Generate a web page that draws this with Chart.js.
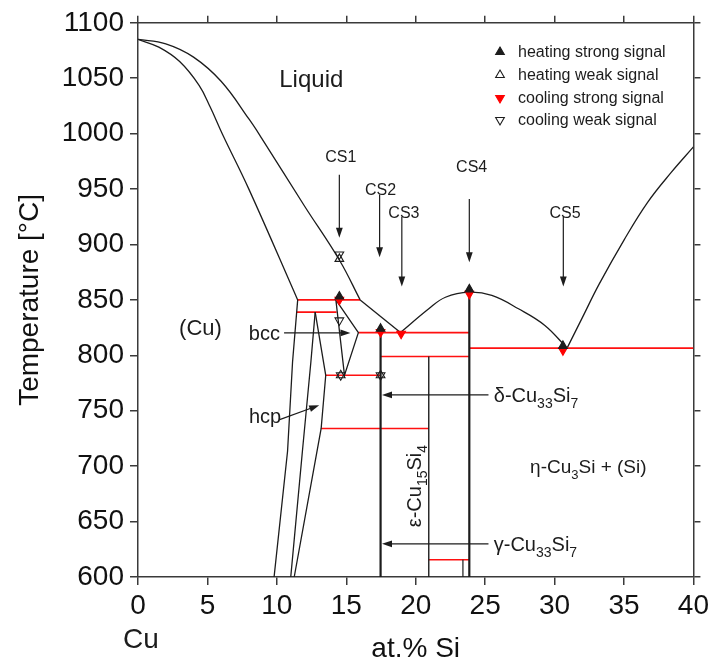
<!DOCTYPE html>
<html>
<head>
<meta charset="utf-8">
<script src="https://cdn.jsdelivr.net/npm/chart.js@4/dist/chart.umd.min.js"></script>
<style>
  html, body { margin: 0; padding: 0; background: #fff; }
  #wrap { width: 713px; height: 666px; }
</style>
</head>
<body>
<div id="wrap"><canvas id="c" width="713" height="666"></canvas></div>
<script>
// Cu–Si phase diagram, Cu-rich side (composition in at.% Si, temperature in °C)

const xTickValues = [0, 5, 10, 15, 20, 25, 30, 35, 40];
const yTickValues = [600, 650, 700, 750, 800, 850, 900, 950, 1000, 1050, 1100];

// Liquidus, Cu-rich branch
const liquidusCu = [[0, 1085], [2, 1081], [4, 1069], [6, 1047], [8, 1013], [8.9, 996], [12.0, 934.5], [14.5, 886], [16.0, 850]];
const liquidusCuLow = [[16.0, 850], [18.9, 820.5]];
// Liquidus dome over eta-Cu3Si and the Si-side branch
const liquidusDome = [[18.9, 820.5], [20.94, 842], [22.14, 852.4], [23.86, 857], [25.48, 854], [27.4, 842], [29.3, 827], [30.9, 806.5]];
const liquidusSi = [[30.9, 806.5], [32, 834], [33.2, 864], [35, 904], [36.7, 938], [38.4, 965], [40, 988]];
// Solidus and solvus of (Cu)
const solidusCu = [[0, 1085], [1.5, 1078], [3.0, 1065], [4.4, 1043.5], [5.2, 1024], [6.1, 999], [8.0, 949.5], [11.5, 850]];
const solvusCu = [[11.5, 850], [11.13, 794], [10.77, 713.5], [9.8, 600]];
// hcp (kappa) field boundaries
const hcpLeft = [[12.76, 839], [12.45, 794], [11.84, 713.5], [11.0, 600]];
const hcpRight = [[12.76, 839], [13.52, 782], [13.19, 734], [11.25, 600]];
// bcc (beta) field
const bccField = [[14.25, 850], [15.87, 820.5], [14.87, 782], [14.25, 850]];
// Intermetallic phase lines
const deltaLine = [[17.47, 820.5], [17.47, 600]];
const epsilonLine = [[20.94, 799], [20.94, 600]];
const etaLine = [[23.86, 857], [23.86, 600]];
const etaLowLine = [[23.4, 615.6], [23.4, 600]];

// Invariant reaction isotherms
const iso850 = [[11.5, 850], [16.0, 850]];
const iso839 = [[11.45, 839], [14.3, 839]];
const iso820 = [[15.87, 820.5], [23.86, 820.5]];
const iso799 = [[17.47, 799], [23.86, 799]];
const iso806 = [[23.86, 806.5], [40, 806.5]];
const iso782 = [[13.52, 782], [17.47, 782]];
const iso734 = [[13.19, 734], [20.94, 734]];
const iso616 = [[20.94, 615.6], [23.86, 615.6]];

// Thermal analysis signals
const heatingStrong = [[14.5, 853], [17.47, 824], [23.86, 859.5], [30.6, 808.5]];
const heatingWeak = [[14.5, 887], [14.6, 782], [17.47, 782]];
const coolingStrong = [[14.5, 850], [17.47, 821], [18.95, 819.5], [23.86, 855.5], [30.6, 804.5]];
const coolingWeak = [[14.5, 891], [14.5, 831.5], [14.6, 782], [17.47, 782]];

// Sample compositions
const sampleNames = ['CS1', 'CS2', 'CS3', 'CS4', 'CS5'];
const sampleX = [14.5, 17.4, 19.0, 23.86, 30.63];

const FONT = '"Liberation Sans", Arial, Helvetica, sans-serif';
const BLACK = '#1c1c1c';
const RED = '#ff1010';

const pts = arr => arr.map(([x, y]) => ({ x, y }));

function lineSet(data, opts = {}) {
  return Object.assign({
    data: pts(data), showLine: true, pointRadius: 0, pointHoverRadius: 0,
    borderColor: BLACK, borderWidth: 1.3, fill: false, tension: 0, order: 1,
    xAxisID: 'x', yAxisID: 'y'
  }, opts);
}
const curve = { tension: 0.4 };

function markerSet(label, data, opts) {
  return Object.assign({
    label, data: pts(data), showLine: false, pointStyle: 'triangle',
    pointRadius: 5, pointHoverRadius: 5, borderWidth: 1.1, order: 0,
    xAxisID: 'x', yAxisID: 'y'
  }, opts);
}

const markerSets = [
  markerSet('heating strong signal', heatingStrong, { backgroundColor: BLACK, borderColor: BLACK, pointRotation: 0 }),
  markerSet('heating weak signal', heatingWeak, { backgroundColor: 'rgba(255,255,255,0)', borderColor: BLACK, pointRotation: 0 }),
  markerSet('cooling strong signal', coolingStrong, { backgroundColor: '#ff0000', borderColor: '#ff0000', pointRotation: 180 }),
  markerSet('cooling weak signal', coolingWeak, { backgroundColor: 'rgba(255,255,255,0)', borderColor: BLACK, pointRotation: 180 })
];

const datasets = [
  ...markerSets,
  lineSet(liquidusCu, curve),
  lineSet(liquidusCuLow),
  lineSet(liquidusDome, curve),
  lineSet(liquidusSi, curve),
  lineSet(solidusCu, curve),
  lineSet(solvusCu),
  lineSet(hcpLeft),
  lineSet(hcpRight),
  lineSet(bccField),
  lineSet(deltaLine, { borderWidth: 2.2 }),
  lineSet(epsilonLine, { borderWidth: 1.4 }),
  lineSet(etaLine, { borderWidth: 2.2 }),
  lineSet(etaLowLine, { borderWidth: 1.2 }),
  ...[iso850, iso839, iso820, iso799, iso806, iso782, iso734, iso616]
    .map(d => lineSet(d, { borderColor: RED, borderWidth: 1.6, order: 2 }))
];

// Text pieces: plain runs and subscript runs
function richText(ctx, parts, x, y, size, align) {
  const subSize = Math.round(size * 0.7);
  let w = 0;
  for (const p of parts) {
    ctx.font = (p.sub ? subSize : size) + 'px ' + FONT;
    w += ctx.measureText(p.t).width;
  }
  let cx = align === 'center' ? x - w / 2 : x;
  ctx.textAlign = 'left';
  ctx.textBaseline = 'alphabetic';
  const base = y + size * 0.36;
  for (const p of parts) {
    ctx.font = (p.sub ? subSize : size) + 'px ' + FONT;
    ctx.fillText(p.t, cx, p.sub ? base + size * 0.3 : base);
    cx += ctx.measureText(p.t).width;
  }
}

function arrow(ctx, x1, y1, x2, y2) {
  const a = Math.atan2(y2 - y1, x2 - x1);
  const L = 10, W = 3.4;
  ctx.beginPath();
  ctx.moveTo(x1, y1);
  ctx.lineTo(x2 - Math.cos(a) * L * 0.6, y2 - Math.sin(a) * L * 0.6);
  ctx.stroke();
  ctx.beginPath();
  ctx.moveTo(x2, y2);
  ctx.lineTo(x2 - Math.cos(a) * L - Math.sin(a) * W, y2 - Math.sin(a) * L + Math.cos(a) * W);
  ctx.lineTo(x2 - Math.cos(a) * L + Math.sin(a) * W, y2 - Math.sin(a) * L - Math.cos(a) * W);
  ctx.closePath();
  ctx.fill();
}

const annotationPlugin = {
  id: 'phaseAnnotations',
  afterDatasetsDraw(chart) {
    const { ctx } = chart;
    const xs = chart.scales.x, ys = chart.scales.y;
    const px = v => xs.getPixelForValue(v), py = v => ys.getPixelForValue(v);
    ctx.save();
    ctx.fillStyle = BLACK;
    ctx.strokeStyle = BLACK;
    ctx.lineWidth = 1.2;

    // Phase field names
    richText(ctx, [{ t: 'Liquid' }], px(12.48), py(1049.6), 24, 'center');
    richText(ctx, [{ t: '(Cu)' }], px(4.5), py(825.6), 22, 'center');
    richText(ctx, [{ t: 'bcc' }], px(9.1), py(820), 20, 'center');
    richText(ctx, [{ t: 'hcp' }], px(9.15), py(745.5), 20, 'center');
    arrow(ctx, px(10.52), py(820.2), px(15.3), py(820.2));
    arrow(ctx, px(10.2), py(742), px(13.05), py(755));

    // Sample composition markers
    const labelT = [979.6, 949.5, 929.5, 970.7, 929.5];
    const arrowTop = [963, 945, 925, 941, 925];
    const arrowEnd = [906, 888.5, 862, 884, 862];
    const labelDx = [0.1, 0.07, 0.15, 0.17, 0.12];
    sampleNames.forEach((n, i) => {
      richText(ctx, [{ t: n }], px(sampleX[i] + labelDx[i]), py(labelT[i]), 16, 'center');
      arrow(ctx, px(sampleX[i]), py(arrowTop[i]), px(sampleX[i]), py(arrowEnd[i]));
    });

    // Intermetallic phase names
    richText(ctx, [{ t: 'δ-Cu' }, { t: '33', sub: true }, { t: 'Si' }, { t: '7', sub: true }], px(25.62), py(764), 20, 'left');
    arrow(ctx, px(25.24), py(764.3), px(17.57), py(764.3));
    richText(ctx, [{ t: 'γ-Cu' }, { t: '33', sub: true }, { t: 'Si' }, { t: '7', sub: true }], px(25.62), py(630), 20, 'left');
    arrow(ctx, px(25.24), py(629.9), px(17.57), py(629.9));
    richText(ctx, [{ t: 'η-Cu' }, { t: '3', sub: true }, { t: 'Si + (Si)' }], px(32.43), py(700), 19, 'center');

    ctx.save();
    ctx.translate(px(19.86), py(682));
    ctx.rotate(-Math.PI / 2);
    richText(ctx, [{ t: 'ε-Cu' }, { t: '15', sub: true }, { t: 'Si' }, { t: '4', sub: true }], 0, 0, 20, 'center');
    ctx.restore();

    // Pure copper end member
    richText(ctx, [{ t: 'Cu' }], 141, 638, 28, 'center');
    ctx.restore();
  }
};

const legendPlugin = {
  id: 'signalLegend',
  afterDraw(chart) {
    const { ctx } = chart;
    ctx.save();
    const mx = 500, tx = 518, rows = [52, 75, 98, 120];
    markerSets.forEach((ds, i) => {
      ctx.fillStyle = ds.backgroundColor;
      ctx.strokeStyle = ds.borderColor;
      ctx.lineWidth = ds.borderWidth;
      Chart.helpers.drawPoint(ctx, { pointStyle: 'triangle', radius: 5, rotation: ds.pointRotation, borderWidth: ds.borderWidth }, mx, rows[i]);
      ctx.fillStyle = BLACK;
      ctx.font = '16px ' + FONT;
      ctx.textAlign = 'left';
      ctx.textBaseline = 'middle';
      ctx.fillText(ds.label, tx, rows[i] + 1);
    });
    ctx.restore();
  }
};

const frame = { display: true, color: '#3a3a3a', width: 1.5 };
const tickFont = { family: FONT, size: 28 };
const plainNumber = v => String(v);

new Chart(document.getElementById('c'), {
  type: 'scatter',
  data: { datasets },
  options: {
    responsive: false,
    animation: false,
    devicePixelRatio: 1,
    layout: { padding: 0 },
    plugins: { legend: { display: false }, tooltip: { enabled: false } },
    events: [],
    scales: {
      x: {
        type: 'linear', position: 'bottom', min: 0, max: 40,
        afterBuildTicks: s => { s.ticks = xTickValues.map(v => ({ value: v })); },
        ticks: { font: tickFont, color: '#111', padding: 4, maxRotation: 0, callback: plainNumber },
        grid: { drawOnChartArea: false, drawTicks: true, tickLength: 8, color: '#3a3a3a', lineWidth: 1.5 },
        border: frame,
        title: { display: true, text: 'at.% Si', font: { family: FONT, size: 28 }, color: '#111', padding: { top: 0, bottom: 0 } },
        afterFit: s => { s.height = 89; }
      },
      y: {
        type: 'linear', position: 'left', min: 600, max: 1100,
        afterBuildTicks: s => { s.ticks = yTickValues.map(v => ({ value: v })); },
        ticks: { font: tickFont, color: '#111', padding: 6, callback: plainNumber },
        grid: { drawOnChartArea: false, drawTicks: true, tickLength: 8, color: '#3a3a3a', lineWidth: 1.5 },
        border: frame,
        title: { display: true, text: 'Temperature [°C]', font: { family: FONT, size: 28 }, color: '#111', padding: { top: 13, bottom: 0 } },
        afterFit: s => { s.width = 138; }
      },
      xTop: {
        type: 'linear', position: 'top', min: 0, max: 40,
        afterBuildTicks: s => { s.ticks = xTickValues.map(v => ({ value: v })); },
        ticks: { display: false },
        grid: { drawOnChartArea: false, drawTicks: true, tickLength: 7, color: '#3a3a3a', lineWidth: 1.5 },
        border: frame,
        afterFit: s => { s.height = 19; }
      },
      yRight: {
        type: 'linear', position: 'right', min: 600, max: 1100,
        afterBuildTicks: s => { s.ticks = yTickValues.map(v => ({ value: v })); },
        ticks: { display: false },
        grid: { drawOnChartArea: false, drawTicks: true, tickLength: 7, color: '#3a3a3a', lineWidth: 1.5 },
        border: frame,
        afterFit: s => { s.width = 18; }
      }
    }
  },
  plugins: [annotationPlugin, legendPlugin]
});
</script>
</body>
</html>
